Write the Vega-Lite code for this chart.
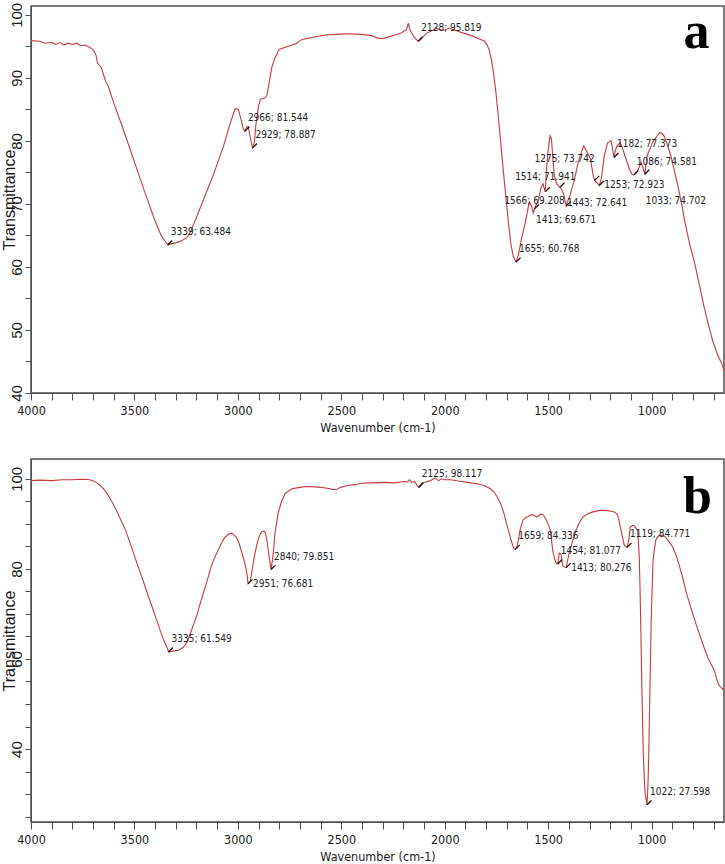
{
  "$schema": "https://vega.github.io/schema/vega-lite/v6.json",
  "padding": {"left": 0, "top": 1, "right": 2, "bottom": 0},
  "background": "white",
  "config": {
    "view": {"stroke": "#505050", "strokeWidth": 1.5},
    "axis": {"grid": false, "domainColor": "#505050", "tickColor": "#505050", "labelColor": "#1a1a1a", "titleColor": "#1a1a1a", "titleFontWeight": "normal", "labelFlush": false, "labelOverlap": false}
  },
  "datasets": {
    "specA": [
      {"wn":4000,"T":95.9},{"wn":3960,"T":95.8},{"wn":3930,"T":95.5},{"wn":3900,"T":95.6},{"wn":3880,"T":95.3},{"wn":3860,"T":95.6},{"wn":3840,"T":95.2},{"wn":3820,"T":95.5},{"wn":3800,"T":95.3},{"wn":3780,"T":95.5},{"wn":3760,"T":95.1},{"wn":3740,"T":95.2},{"wn":3720,"T":94.9},{"wn":3705,"T":94.6},{"wn":3694,"T":94.2},{"wn":3685,"T":93.5},{"wn":3679,"T":92.4},{"wn":3670,"T":92.0},{"wn":3660,"T":91.6},{"wn":3640,"T":89.5},{"wn":3627,"T":88.7},{"wn":3600,"T":86.0},{"wn":3560,"T":82.4},{"wn":3520,"T":78.6},{"wn":3493,"T":76.0},{"wn":3449,"T":71.8},{"wn":3404,"T":67.6},{"wn":3371,"T":65.0},{"wn":3350,"T":64.0},{"wn":3339,"T":63.5},{"wn":3320,"T":63.7},{"wn":3292,"T":63.9},{"wn":3270,"T":64.2},{"wn":3248,"T":64.6},{"wn":3230,"T":65.5},{"wn":3203,"T":67.6},{"wn":3159,"T":71.3},{"wn":3114,"T":75.0},{"wn":3069,"T":79.2},{"wn":3036,"T":82.9},{"wn":3013,"T":85.1},{"wn":2998,"T":85.0},{"wn":2985,"T":83.5},{"wn":2975,"T":82.0},{"wn":2966,"T":81.5},{"wn":2958,"T":82.2},{"wn":2950,"T":82.3},{"wn":2940,"T":80.5},{"wn":2929,"T":78.9},{"wn":2920,"T":79.8},{"wn":2913,"T":82.5},{"wn":2900,"T":85.5},{"wn":2891,"T":86.6},{"wn":2870,"T":86.8},{"wn":2860,"T":87.2},{"wn":2850,"T":89.0},{"wn":2835,"T":91.8},{"wn":2820,"T":93.2},{"wn":2801,"T":94.5},{"wn":2757,"T":95.0},{"wn":2720,"T":95.4},{"wn":2690,"T":96.1},{"wn":2640,"T":96.4},{"wn":2578,"T":96.8},{"wn":2520,"T":96.9},{"wn":2466,"T":97.0},{"wn":2400,"T":96.9},{"wn":2355,"T":96.7},{"wn":2320,"T":96.3},{"wn":2300,"T":96.2},{"wn":2270,"T":96.5},{"wn":2243,"T":96.8},{"wn":2210,"T":97.1},{"wn":2199,"T":97.4},{"wn":2185,"T":97.6},{"wn":2176,"T":98.7},{"wn":2168,"T":97.6},{"wn":2150,"T":96.6},{"wn":2135,"T":96.0},{"wn":2128,"T":95.8},{"wn":2110,"T":96.3},{"wn":2087,"T":97.1},{"wn":2060,"T":97.5},{"wn":2043,"T":97.9},{"wn":2020,"T":97.6},{"wn":1998,"T":97.6},{"wn":1980,"T":97.9},{"wn":1953,"T":97.6},{"wn":1930,"T":97.3},{"wn":1909,"T":97.1},{"wn":1870,"T":96.7},{"wn":1842,"T":96.3},{"wn":1820,"T":96.0},{"wn":1808,"T":95.8},{"wn":1795,"T":95.2},{"wn":1786,"T":94.5},{"wn":1775,"T":93.0},{"wn":1764,"T":90.8},{"wn":1752,"T":87.5},{"wn":1741,"T":83.9},{"wn":1730,"T":80.0},{"wn":1719,"T":76.0},{"wn":1708,"T":72.3},{"wn":1697,"T":68.7},{"wn":1688,"T":65.8},{"wn":1679,"T":63.4},{"wn":1668,"T":61.6},{"wn":1655,"T":60.8},{"wn":1645,"T":61.8},{"wn":1636,"T":63.2},{"wn":1629,"T":64.5},{"wn":1618,"T":66.0},{"wn":1607,"T":67.6},{"wn":1598,"T":69.2},{"wn":1590,"T":70.3},{"wn":1580,"T":69.6},{"wn":1572,"T":68.6},{"wn":1566,"T":69.2},{"wn":1556,"T":70.0},{"wn":1547,"T":70.8},{"wn":1535,"T":72.5},{"wn":1525,"T":73.2},{"wn":1514,"T":71.9},{"wn":1508,"T":75.5},{"wn":1500,"T":78.5},{"wn":1491,"T":80.8},{"wn":1484,"T":80.3},{"wn":1478,"T":77.5},{"wn":1470,"T":74.5},{"wn":1460,"T":73.3},{"wn":1451,"T":72.9},{"wn":1443,"T":72.6},{"wn":1435,"T":72.3},{"wn":1425,"T":71.5},{"wn":1413,"T":69.7},{"wn":1405,"T":70.5},{"wn":1395,"T":71.3},{"wn":1384,"T":72.6},{"wn":1373,"T":73.9},{"wn":1360,"T":75.8},{"wn":1351,"T":77.1},{"wn":1338,"T":78.3},{"wn":1328,"T":79.2},{"wn":1318,"T":78.6},{"wn":1311,"T":78.2},{"wn":1295,"T":77.1},{"wn":1282,"T":74.4},{"wn":1275,"T":73.7},{"wn":1262,"T":73.3},{"wn":1253,"T":72.9},{"wn":1244,"T":73.9},{"wn":1236,"T":75.8},{"wn":1229,"T":77.6},{"wn":1213,"T":79.7},{"wn":1196,"T":80.0},{"wn":1190,"T":79.0},{"wn":1182,"T":77.4},{"wn":1175,"T":78.5},{"wn":1167,"T":79.2},{"wn":1152,"T":79.7},{"wn":1140,"T":78.8},{"wn":1129,"T":77.6},{"wn":1115,"T":76.3},{"wn":1107,"T":75.5},{"wn":1095,"T":74.7},{"wn":1086,"T":74.6},{"wn":1075,"T":75.0},{"wn":1067,"T":75.3},{"wn":1058,"T":76.0},{"wn":1051,"T":76.6},{"wn":1042,"T":75.8},{"wn":1033,"T":74.7},{"wn":1028,"T":76.0},{"wn":1022,"T":77.6},{"wn":1010,"T":78.6},{"wn":996,"T":79.7},{"wn":980,"T":80.5},{"wn":962,"T":81.3},{"wn":950,"T":81.2},{"wn":940,"T":80.8},{"wn":925,"T":79.5},{"wn":907,"T":77.6},{"wn":890,"T":75.3},{"wn":873,"T":72.9},{"wn":855,"T":70.0},{"wn":839,"T":67.1},{"wn":815,"T":63.5},{"wn":793,"T":60.8},{"wn":770,"T":57.3},{"wn":748,"T":53.9},{"wn":725,"T":50.8},{"wn":704,"T":48.2},{"wn":680,"T":46.0},{"wn":659,"T":44.5},{"wn":650,"T":43.5}
    ],
    "specB": [
      {"wn":4000,"T":99.6},{"wn":3950,"T":99.7},{"wn":3900,"T":99.6},{"wn":3850,"T":99.8},{"wn":3800,"T":99.8},{"wn":3760,"T":99.9},{"wn":3721,"T":99.85},{"wn":3699,"T":99.5},{"wn":3680,"T":99.1},{"wn":3665,"T":98.5},{"wn":3650,"T":97.8},{"wn":3632,"T":96.7},{"wn":3610,"T":95.0},{"wn":3587,"T":93.0},{"wn":3565,"T":90.8},{"wn":3542,"T":88.5},{"wn":3520,"T":85.6},{"wn":3498,"T":82.6},{"wn":3475,"T":79.6},{"wn":3453,"T":76.7},{"wn":3430,"T":73.6},{"wn":3408,"T":70.7},{"wn":3390,"T":68.3},{"wn":3375,"T":66.3},{"wn":3360,"T":64.3},{"wn":3342,"T":62.5},{"wn":3335,"T":61.5},{"wn":3308,"T":61.8},{"wn":3285,"T":62.0},{"wn":3263,"T":62.6},{"wn":3245,"T":63.8},{"wn":3230,"T":65.6},{"wn":3213,"T":67.8},{"wn":3196,"T":70.0},{"wn":3180,"T":72.6},{"wn":3163,"T":75.2},{"wn":3146,"T":77.8},{"wn":3130,"T":80.4},{"wn":3113,"T":82.4},{"wn":3096,"T":84.1},{"wn":3080,"T":85.7},{"wn":3063,"T":87.0},{"wn":3045,"T":87.7},{"wn":3029,"T":87.9},{"wn":3015,"T":87.4},{"wn":3007,"T":87.0},{"wn":2995,"T":85.8},{"wn":2984,"T":84.1},{"wn":2972,"T":82.2},{"wn":2962,"T":80.4},{"wn":2955,"T":78.5},{"wn":2951,"T":76.7},{"wn":2940,"T":77.3},{"wn":2935,"T":78.6},{"wn":2929,"T":80.4},{"wn":2918,"T":83.3},{"wn":2906,"T":85.9},{"wn":2895,"T":87.4},{"wn":2884,"T":88.3},{"wn":2875,"T":88.4},{"wn":2868,"T":88.1},{"wn":2861,"T":86.8},{"wn":2855,"T":84.8},{"wn":2848,"T":82.4},{"wn":2840,"T":79.9},{"wn":2833,"T":81.9},{"wn":2826,"T":84.8},{"wn":2821,"T":87.8},{"wn":2806,"T":92.2},{"wn":2790,"T":94.8},{"wn":2772,"T":96.7},{"wn":2739,"T":97.8},{"wn":2700,"T":98.1},{"wn":2672,"T":98.3},{"wn":2630,"T":98.2},{"wn":2583,"T":98.0},{"wn":2555,"T":97.8},{"wn":2538,"T":97.6},{"wn":2520,"T":97.7},{"wn":2505,"T":98.1},{"wn":2470,"T":98.5},{"wn":2430,"T":98.7},{"wn":2404,"T":99.0},{"wn":2350,"T":99.1},{"wn":2292,"T":99.2},{"wn":2240,"T":99.1},{"wn":2200,"T":99.4},{"wn":2181,"T":99.3},{"wn":2170,"T":99.8},{"wn":2160,"T":99.2},{"wn":2145,"T":99.4},{"wn":2136,"T":98.7},{"wn":2125,"T":98.1},{"wn":2110,"T":99.0},{"wn":2091,"T":99.3},{"wn":2070,"T":99.6},{"wn":2047,"T":100.2},{"wn":2030,"T":99.6},{"wn":2015,"T":100.0},{"wn":2002,"T":99.8},{"wn":1970,"T":99.8},{"wn":1935,"T":99.5},{"wn":1890,"T":99.2},{"wn":1846,"T":98.9},{"wn":1810,"T":98.5},{"wn":1779,"T":97.8},{"wn":1760,"T":97.0},{"wn":1746,"T":95.9},{"wn":1735,"T":95.0},{"wn":1723,"T":93.7},{"wn":1712,"T":92.0},{"wn":1701,"T":90.0},{"wn":1690,"T":88.2},{"wn":1679,"T":86.3},{"wn":1668,"T":84.7},{"wn":1659,"T":84.3},{"wn":1650,"T":85.0},{"wn":1645,"T":86.3},{"wn":1634,"T":89.0},{"wn":1623,"T":90.7},{"wn":1612,"T":91.3},{"wn":1601,"T":91.5},{"wn":1590,"T":91.8},{"wn":1578,"T":92.1},{"wn":1567,"T":91.9},{"wn":1556,"T":91.5},{"wn":1545,"T":91.8},{"wn":1534,"T":92.2},{"wn":1523,"T":92.0},{"wn":1512,"T":91.1},{"wn":1500,"T":90.0},{"wn":1489,"T":88.5},{"wn":1478,"T":84.1},{"wn":1470,"T":82.5},{"wn":1462,"T":81.3},{"wn":1454,"T":81.1},{"wn":1446,"T":83.5},{"wn":1438,"T":83.2},{"wn":1430,"T":80.7},{"wn":1420,"T":80.4},{"wn":1413,"T":80.3},{"wn":1400,"T":83.3},{"wn":1383,"T":86.0},{"wn":1366,"T":88.5},{"wn":1350,"T":90.2},{"wn":1333,"T":91.5},{"wn":1310,"T":92.2},{"wn":1288,"T":92.6},{"wn":1250,"T":93.0},{"wn":1221,"T":93.0},{"wn":1195,"T":92.8},{"wn":1177,"T":92.6},{"wn":1165,"T":92.0},{"wn":1159,"T":91.1},{"wn":1150,"T":89.0},{"wn":1140,"T":87.0},{"wn":1132,"T":85.2},{"wn":1119,"T":84.8},{"wn":1110,"T":86.5},{"wn":1103,"T":89.3},{"wn":1090,"T":89.7},{"wn":1085,"T":89.6},{"wn":1075,"T":89.0},{"wn":1067,"T":88.5},{"wn":1060,"T":83.0},{"wn":1056,"T":75.9},{"wn":1051,"T":64.0},{"wn":1047,"T":53.7},{"wn":1043,"T":45.0},{"wn":1040,"T":38.9},{"wn":1035,"T":33.0},{"wn":1031,"T":30.0},{"wn":1022,"T":27.6},{"wn":1018,"T":31.5},{"wn":1014,"T":38.0},{"wn":1011,"T":46.3},{"wn":1006,"T":58.0},{"wn":1002,"T":68.5},{"wn":997,"T":76.0},{"wn":993,"T":81.9},{"wn":986,"T":84.5},{"wn":980,"T":86.3},{"wn":972,"T":87.0},{"wn":964,"T":87.4},{"wn":950,"T":87.5},{"wn":931,"T":87.0},{"wn":915,"T":86.0},{"wn":897,"T":84.8},{"wn":880,"T":82.8},{"wn":864,"T":80.4},{"wn":847,"T":77.5},{"wn":830,"T":74.4},{"wn":813,"T":71.8},{"wn":796,"T":69.3},{"wn":780,"T":67.0},{"wn":763,"T":64.8},{"wn":746,"T":62.5},{"wn":729,"T":60.4},{"wn":712,"T":58.8},{"wn":696,"T":57.4},{"wn":685,"T":55.5},{"wn":674,"T":54.1},{"wn":663,"T":53.7},{"wn":655,"T":53.2},{"wn":650,"T":53.5}
    ],
    "peaksA": [
      {"wn":3339,"T":63.484,"label":"3339; 63.484"},{"wn":2966,"T":81.544,"label":"2966; 81.544"},{"wn":2929,"T":78.887,"label":"2929; 78.887"},{"wn":2128,"T":95.819,"label":"2128; 95.819"},{"wn":1655,"T":60.768,"label":"1655; 60.768"},{"wn":1566,"T":69.208,"label":"1566; 69.208"},{"wn":1514,"T":71.941,"label":"1514; 71.941"},{"wn":1443,"T":72.641,"label":"1443; 72.641"},{"wn":1413,"T":69.671,"label":"1413; 69.671"},{"wn":1275,"T":73.742,"label":"1275; 73.742"},{"wn":1253,"T":72.923,"label":"1253; 72.923"},{"wn":1182,"T":77.373,"label":"1182; 77.373"},{"wn":1086,"T":74.581,"label":"1086; 74.581"},{"wn":1033,"T":74.702,"label":"1033; 74.702"}
    ],
    "peaksB": [
      {"wn":3335,"T":61.549,"label":"3335; 61.549"},{"wn":2951,"T":76.681,"label":"2951; 76.681"},{"wn":2840,"T":79.851,"label":"2840; 79.851"},{"wn":2125,"T":98.117,"label":"2125; 98.117"},{"wn":1659,"T":84.336,"label":"1659; 84.336"},{"wn":1454,"T":81.077,"label":"1454; 81.077"},{"wn":1413,"T":80.276,"label":"1413; 80.276"},{"wn":1119,"T":84.771,"label":"1119; 84.771"},{"wn":1022,"T":27.598,"label":"1022; 27.598"}
    ],
    "letterA": [{"wn": 783, "T": 94.8, "panel": "a"}],
    "letterB": [{"wn": 778, "T": 92.4, "panel": "b"}]
  },
  "spacing": 23,
  "vconcat": [
    {
      "width": 693,
      "height": 387,
      "encoding": {
        "x": {"field": "wn", "type": "quantitative", "scale": {"domain": [4000, 650], "nice": false, "zero": false},
          "axis": {"title": "Wavenumber (cm-1)", "values": [4000,3900,3800,3700,3600,3500,3400,3300,3200,3100,3000,2900,2800,2700,2600,2500,2400,2300,2200,2100,2000,1900,1800,1700,1600,1500,1400,1300,1200,1100,1000,900,800,700],
            "labelExpr": "datum.value % 500 === 0 ? datum.label : ''", "format": "d", "tickSize": 7, "labelPadding": 4, "labelFont": "DejaVu Sans Condensed, sans-serif", "labelFontSize": 12.5, "titleFont": "DejaVu Sans Condensed, sans-serif", "titleFontSize": 12.5, "titlePadding": 5}},
        "y": {"field": "T", "type": "quantitative", "scale": {"domain": [40, 101.4], "nice": false, "zero": false},
          "axis": {"title": "Transmittance", "values": [40,45,50,55,60,65,70,75,80,85,90,95,100],
            "labelExpr": "datum.value % 10 === 0 ? datum.label : ''", "labelAngle": -90, "labelAlign": "center", "labelBaseline": "bottom", "tickSize": 6, "labelPadding": 1, "labelFont": "Liberation Sans, sans-serif", "labelFontSize": 15, "titleFont": "Liberation Sans, sans-serif", "titleFontSize": 16, "titlePadding": -8}}
      },
      "layer": [
        {"data": {"name": "specA"}, "mark": {"type": "line", "color": "#c83a3e", "strokeWidth": 1.1}},
        {"data": {"name": "peaksA"}, "mark": {"type": "point", "shape": "M0,0L1,-1", "filled": false, "stroke": "#111", "strokeWidth": 1.3, "size": 80, "opacity": 1}},
        {"data": {"name": "peaksA"}, "transform": [{"filter": {"field": "wn", "oneOf": [3339, 2966, 2929, 2128, 1655, 1182, 1086]}}],
          "mark": {"type": "text", "align": "left", "baseline": "middle", "dx": 3, "dy": -13, "font": "DejaVu Sans Condensed, sans-serif", "fontSize": 10, "color": "#222"}, "encoding": {"text": {"field": "label"}}},
        {"data": {"name": "peaksA"}, "transform": [{"filter": {"field": "wn", "equal": 1253}}],
          "mark": {"type": "text", "align": "left", "baseline": "middle", "dx": 5, "dy": 0, "font": "DejaVu Sans Condensed, sans-serif", "fontSize": 10, "color": "#222"}, "encoding": {"text": {"field": "label"}}},
        {"data": {"name": "peaksA"}, "transform": [{"filter": {"field": "wn", "equal": 1566}}],
          "mark": {"type": "text", "align": "center", "baseline": "middle", "dx": 0, "dy": -8, "font": "DejaVu Sans Condensed, sans-serif", "fontSize": 10, "color": "#222"}, "encoding": {"text": {"field": "label"}}},
        {"data": {"name": "peaksA"}, "transform": [{"filter": {"field": "wn", "equal": 1514}}],
          "mark": {"type": "text", "align": "center", "baseline": "middle", "dx": 0, "dy": -15, "font": "DejaVu Sans Condensed, sans-serif", "fontSize": 10, "color": "#222"}, "encoding": {"text": {"field": "label"}}},
        {"data": {"name": "peaksA"}, "transform": [{"filter": {"field": "wn", "equal": 1275}}],
          "mark": {"type": "text", "align": "right", "baseline": "middle", "dx": 0, "dy": -21, "font": "DejaVu Sans Condensed, sans-serif", "fontSize": 10, "color": "#222"}, "encoding": {"text": {"field": "label"}}},
        {"data": {"name": "peaksA"}, "transform": [{"filter": {"field": "wn", "equal": 1443}}],
          "mark": {"type": "text", "align": "left", "baseline": "middle", "dx": 7, "dy": 16, "font": "DejaVu Sans Condensed, sans-serif", "fontSize": 10, "color": "#222"}, "encoding": {"text": {"field": "label"}}},
        {"data": {"name": "peaksA"}, "transform": [{"filter": {"field": "wn", "equal": 1413}}],
          "mark": {"type": "text", "align": "center", "baseline": "middle", "dx": 0, "dy": 14, "font": "DejaVu Sans Condensed, sans-serif", "fontSize": 10, "color": "#222"}, "encoding": {"text": {"field": "label"}}},
        {"data": {"name": "peaksA"}, "transform": [{"filter": {"field": "wn", "equal": 1033}}],
          "mark": {"type": "text", "align": "left", "baseline": "middle", "dx": 1, "dy": 27, "font": "DejaVu Sans Condensed, sans-serif", "fontSize": 10, "color": "#222"}, "encoding": {"text": {"field": "label"}}},
        {"data": {"name": "letterA"}, "mark": {"type": "text", "align": "center", "baseline": "alphabetic", "font": "Liberation Serif, DejaVu Serif, serif", "fontWeight": "bold", "fontSize": 52, "color": "#000"},
          "encoding": {"text": {"field": "panel", "type": "nominal"}}}
      ]
    },
    {
      "width": 693,
      "height": 363,
      "encoding": {
        "x": {"field": "wn", "type": "quantitative", "scale": {"domain": [4000, 650], "nice": false, "zero": false},
          "axis": {"title": "Wavenumber (cm-1)", "values": [4000,3900,3800,3700,3600,3500,3400,3300,3200,3100,3000,2900,2800,2700,2600,2500,2400,2300,2200,2100,2000,1900,1800,1700,1600,1500,1400,1300,1200,1100,1000,900,800,700],
            "labelExpr": "datum.value % 500 === 0 ? datum.label : ''", "format": "d", "tickSize": 7, "labelPadding": 4, "labelFont": "DejaVu Sans Condensed, sans-serif", "labelFontSize": 12.5, "titleFont": "DejaVu Sans Condensed, sans-serif", "titleFontSize": 12.5, "titlePadding": 5}},
        "y": {"field": "T", "type": "quantitative", "scale": {"domain": [23.8, 104.4], "nice": false, "zero": false},
          "axis": {"title": "Transmittance", "values": [25,30,35,40,45,50,55,60,65,70,75,80,85,90,95,100],
            "labelExpr": "datum.value % 20 === 0 ? datum.label : ''", "labelAngle": -90, "labelAlign": "center", "labelBaseline": "bottom", "tickSize": 6, "labelPadding": 1, "labelFont": "Liberation Sans, sans-serif", "labelFontSize": 15, "titleFont": "Liberation Sans, sans-serif", "titleFontSize": 16, "titlePadding": -8}}
      },
      "layer": [
        {"data": {"name": "specB"}, "mark": {"type": "line", "color": "#c83a3e", "strokeWidth": 1.1}},
        {"data": {"name": "peaksB"}, "mark": {"type": "point", "shape": "M0,0L1,-1", "filled": false, "stroke": "#111", "strokeWidth": 1.3, "size": 80, "opacity": 1}},
        {"data": {"name": "peaksB"}, "transform": [{"filter": {"field": "wn", "oneOf": [3335, 2840, 2125, 1659, 1454, 1119, 1022]}}],
          "mark": {"type": "text", "align": "left", "baseline": "middle", "dx": 3, "dy": -13, "font": "DejaVu Sans Condensed, sans-serif", "fontSize": 10, "color": "#222"}, "encoding": {"text": {"field": "label"}}},
        {"data": {"name": "peaksB"}, "transform": [{"filter": {"field": "wn", "oneOf": [2951, 1413]}}],
          "mark": {"type": "text", "align": "left", "baseline": "middle", "dx": 5, "dy": 0, "font": "DejaVu Sans Condensed, sans-serif", "fontSize": 10, "color": "#222"}, "encoding": {"text": {"field": "label"}}},
        {"data": {"name": "letterB"}, "mark": {"type": "text", "align": "center", "baseline": "alphabetic", "font": "Liberation Serif, DejaVu Serif, serif", "fontWeight": "bold", "fontSize": 52, "color": "#000"},
          "encoding": {"text": {"field": "panel", "type": "nominal"}}}
      ]
    }
  ]
}
